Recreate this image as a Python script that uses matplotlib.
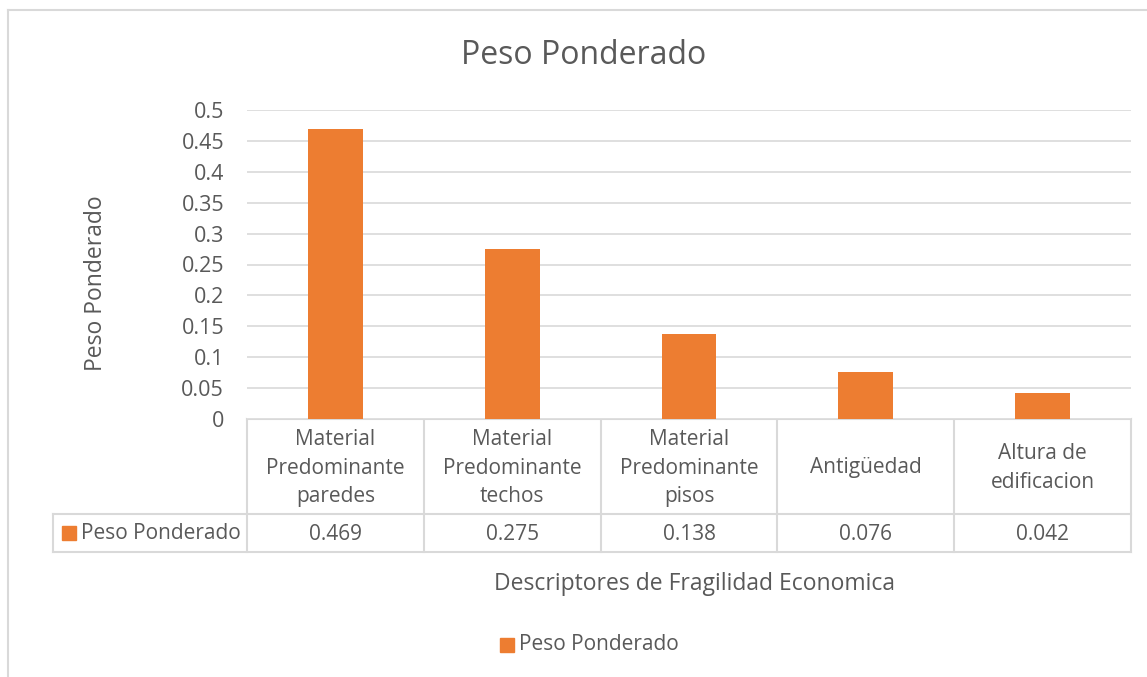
import matplotlib
matplotlib.use("Agg")
import matplotlib.pyplot as plt
from matplotlib.patches import Rectangle
from matplotlib.lines import Line2D

categories = ["Material\nPredominante\nparedes", "Material\nPredominante\ntechos",
              "Material\nPredominante\npisos", "Antigüedad", "Altura de\nedificacion"]
values = [0.469, 0.275, 0.138, 0.076, 0.042]
value_labels = ["0.469", "0.275", "0.138", "0.076", "0.042"]
yticks = [0, 0.05, 0.1, 0.15, 0.2, 0.25, 0.3, 0.35, 0.4, 0.45, 0.5]
ytick_labels = ["0", "0.05", "0.1", "0.15", "0.2", "0.25", "0.3", "0.35", "0.4", "0.45", "0.5"]
series_name = "Peso Ponderado"
title = "Peso Ponderado"
xlabel = "Descriptores de Fragilidad Economica"
ylabel = "Peso Ponderado"

plt.rcParams['font.family'] = ['Open Sans', 'DejaVu Sans']
W, H = 1147, 677
BAR = "#ED7D31"
TXT = "#595959"
GRID = "#D9D9D9"
FS = 15

fig = plt.figure(figsize=(W / 100, H / 100), dpi=100)

def fx(px):
    return px / W

def fy(py):
    return 1 - py / H

# overlay axes in pixel coordinates
ov = fig.add_axes([0, 0, 1, 1])
ov.set_xlim(0, W)
ov.set_ylim(H, 0)
ov.axis("off")

# outer chart border
ov.add_line(Line2D([8, 8], [10, H + 5], color=GRID, lw=1.5))
ov.add_line(Line2D([8, W + 5], [10, 10], color=GRID, lw=1.5))

x0, x1, y_top, y_zero = 247, 1131, 110, 419
ax = fig.add_axes([fx(x0), fy(y_zero), fx(x1) - fx(x0), fy(y_top) - fy(y_zero)])
n = len(categories)
xs = list(range(n))
ax.bar(xs, values, width=0.31, color=BAR, zorder=3)
ax.set_xlim(-0.5, n - 0.5)
ax.set_ylim(0, 0.5)
ax.set_yticks(yticks)
ax.set_yticklabels(ytick_labels, fontsize=15.5, color=TXT)
ax.tick_params(axis="y", length=0, pad=16.5)
ax.set_xticks([])
ax.grid(axis="y", color=GRID, lw=1.2, zorder=0)
for s in ax.spines.values():
    s.set_visible(False)

# data table
row1_bot, row2_bot = 514, 552
colw = (x1 - x0) / n
lab_left = 53
tl = dict(color=GRID, lw=1.5)
ov.add_line(Line2D([x0, x1], [y_zero, y_zero], **tl))
ov.add_line(Line2D([lab_left, x1], [row1_bot, row1_bot], **tl))
ov.add_line(Line2D([lab_left, x1], [row2_bot, row2_bot], **tl))
ov.add_line(Line2D([lab_left, lab_left], [row1_bot, row2_bot], **tl))
for i in range(n + 1):
    xx = x0 + i * colw
    ov.add_line(Line2D([xx, xx], [y_zero, row2_bot], **tl))
for i in range(n):
    cx = x0 + (i + 0.5) * colw
    ov.text(cx, (y_zero + row1_bot) / 2 + 1.5, categories[i], ha="center", va="center",
            fontsize=FS, color=TXT, linespacing=1.45)
    ov.text(cx, (row1_bot + row2_bot) / 2 + 1, value_labels[i], ha="center", va="center",
            fontsize=FS, color=TXT)
ov.add_patch(Rectangle((62, 526), 14, 14, color=BAR))
ov.text(81, (row1_bot + row2_bot) / 2 + 0.5, series_name, ha="left", va="center",
        fontsize=FS, color=TXT)

# title, axis labels, legend
ov.text(584, 56, title, ha="center", va="center", fontsize=23, color=TXT)
ov.text(695, 584, xlabel, ha="center", va="center", fontsize=16.5, color=TXT)
ov.text(96, 283, ylabel, ha="center", va="center", rotation=90, fontsize=16.5, color=TXT)
ov.add_patch(Rectangle((500, 638), 14, 14, color=BAR))
ov.text(519, 644.5, series_name, ha="left", va="center", fontsize=FS, color=TXT)

fig.savefig("out.png", dpi=100)
